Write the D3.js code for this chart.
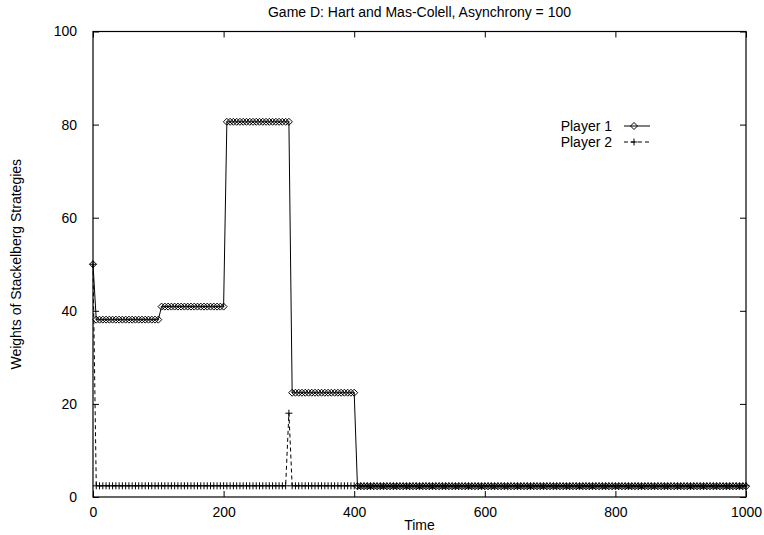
<!DOCTYPE html>
<html>
<head>
<meta charset="utf-8">
<script src="https://cdn.jsdelivr.net/npm/d3@7"></script>
<style>
  body { margin: 0; background: #fff; }
  svg { display: block; font-family: "Liberation Sans", Arial, Helvetica, sans-serif; }
</style>
</head>
<body>
<svg id="chart" width="764" height="535"></svg>
<script>
// Sampling step of the simulation output (time units between recorded points)
const timeStep = 5;
const timeMax = 1000;

// Run-length encoded weights: [value, number of consecutive samples]
const player1Runs = [[50, 1], [38.1, 20], [40.9, 20], [80.6, 20], [22.4, 20], [2.3, 120]];
const player2Runs = [[50, 1], [2.4, 59], [18.0, 1], [2.4, 140]];

const xTicks = [0, 200, 400, 600, 800, 1000];
const yTicks = [0, 20, 40, 60, 80, 100];

const titleText = "Game D: Hart and Mas-Colell, Asynchrony = 100";
const xLabel = "Time";
const yLabel = "Weights of Stackelberg Strategies";
const seriesNames = ["Player 1", "Player 2"];

function expand(runs) {
  const out = [];
  runs.forEach(([v, n]) => { for (let i = 0; i < n; i++) out.push({ t: out.length * timeStep, v }); });
  return out;
}
const p1 = expand(player1Runs);
const p2 = expand(player2Runs);

const W = 764, H = 535;
const m = { left: 93, right: 18, top: 31.5, bottom: 38 };
const svg = d3.select("#chart");

const x = d3.scaleLinear().domain([0, timeMax]).range([m.left, W - m.right]);
const y = d3.scaleLinear().domain([0, 100]).range([H - m.bottom, m.top]);

const tickLen = 6;
const fs = 14;
const fmt = d3.format("d");

// Frame
svg.append("rect")
  .attr("x", x(0)).attr("y", y(100))
  .attr("width", x(timeMax) - x(0)).attr("height", y(0) - y(100))
  .attr("fill", "none").attr("stroke", "#000").attr("stroke-width", 1.2);

// Axes with inward ticks on all four sides
const axB = svg.append("g").attr("transform", `translate(0,${y(0)})`)
  .call(d3.axisBottom(x).tickValues(xTicks).tickFormat(fmt).tickSizeInner(-tickLen).tickSizeOuter(0).tickPadding(tickLen + 4));
const axT = svg.append("g").attr("transform", `translate(0,${y(100)})`)
  .call(d3.axisTop(x).tickValues(xTicks).tickSizeInner(-tickLen).tickSizeOuter(0).tickFormat(""));
const axL = svg.append("g").attr("transform", `translate(${x(0)},0)`)
  .call(d3.axisLeft(y).tickValues(yTicks).tickFormat(fmt).tickSizeInner(-tickLen).tickSizeOuter(0).tickPadding(tickLen + 10));
const axR = svg.append("g").attr("transform", `translate(${x(timeMax)},0)`)
  .call(d3.axisRight(y).tickValues(yTicks).tickSizeInner(-tickLen).tickSizeOuter(0).tickFormat(""));
[axB, axT, axL, axR].forEach(g => {
  g.select(".domain").remove();
  g.selectAll(".tick line").attr("stroke", "#000");
  g.selectAll("text").attr("font-size", fs).attr("fill", "#000")
    .attr("font-family", "'Liberation Sans', Arial, sans-serif");
});

// Title and axis labels
svg.append("text").attr("x", (x(0) + x(timeMax)) / 2).attr("y", 17)
  .attr("text-anchor", "middle").attr("font-size", 14).text(titleText);
svg.append("text").attr("x", (x(0) + x(timeMax)) / 2).attr("y", 530)
  .attr("text-anchor", "middle").attr("font-size", 14).text(xLabel);
svg.append("text").attr("transform", `translate(21,${(y(0) + y(100)) / 2}) rotate(-90)`)
  .attr("text-anchor", "middle").attr("font-size", 14).text(yLabel);

const line = d3.line().x(d => x(d.t)).y(d => y(d.v));

// Player 2 (dashed, plus markers)
svg.append("path").datum(p2).attr("d", line)
  .attr("fill", "none").attr("stroke", "#000").attr("stroke-width", 1).attr("stroke-dasharray", "4,3");
const plus = (g, cx, cy) => g.append("path")
  .attr("d", `M${cx - 3.5},${cy}H${cx + 3.5}M${cx},${cy - 3.5}V${cy + 3.5}`)
  .attr("stroke", "#000").attr("stroke-width", 1).attr("fill", "none");
const g2 = svg.append("g");
p2.forEach(d => plus(g2, x(d.t), y(d.v)));

// Player 1 (solid, open diamond markers)
svg.append("path").datum(p1).attr("d", line)
  .attr("fill", "none").attr("stroke", "#000").attr("stroke-width", 1);
const diamond = (g, cx, cy) => g.append("path")
  .attr("d", `M${cx - 3.5},${cy}L${cx},${cy - 3.5}L${cx + 3.5},${cy}L${cx},${cy + 3.5}Z`)
  .attr("stroke", "#000").attr("stroke-width", 1).attr("fill", "none");
const g1 = svg.append("g");
p1.forEach(d => diamond(g1, x(d.t), y(d.v)));

// Legend
const legX = 612, legY = [126, 142];
seriesNames.forEach((name, i) => {
  svg.append("text").attr("x", legX).attr("y", legY[i] + 5)
    .attr("text-anchor", "end").attr("font-size", fs).text(name);
  svg.append("line").attr("x1", 624).attr("x2", 650).attr("y1", legY[i]).attr("y2", legY[i])
    .attr("stroke", "#000").attr("stroke-width", 1)
    .attr("stroke-dasharray", i === 1 ? "4,3" : null);
  if (i === 0) diamond(svg, 634, legY[i]); else plus(svg, 634, legY[i]);
});
</script>
</body>
</html>
